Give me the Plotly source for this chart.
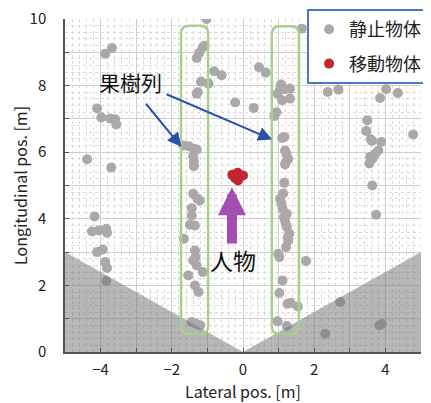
import plotly.graph_objects as go

# ---------------- data ----------------
static_x = [
    -3.87, -3.68, -4.10, -3.98, -3.73, -3.59, -3.56, -4.38, -3.70,
    -1.02, -1.30, -1.23, -1.13, -1.08, -0.81, -0.60, -1.18, -0.97, -1.30, -1.27,
    -1.67, -1.52, -1.38, -1.30, -1.40, -1.38, -1.38,
    -0.22, 0.30,
    0.45, 0.64, 1.07, 0.97, 1.18, 1.32, 1.10, 1.32, 1.04, 0.88, 0.94, 1.65,
    1.10, 1.16, 1.18, 1.22, 1.27, 1.18, 1.20,
    2.38, 2.68, 4.02, 4.35, 3.85, 4.78, 3.49, 3.46, 3.59, 3.88, 3.62, 3.80,
    3.71, 3.57, 3.64, 3.55, 3.63, 3.74, 1.77, 2.73, 3.83, 3.90, 2.31,
    1.16, 1.13, 1.04, 1.08, 1.11, 1.23, 1.18, 1.23, 1.30, 1.27, 1.21, 0.99,
    1.02, 1.11, 1.02, 1.25, 1.34, 1.54, 0.97, 1.23, 1.15, 1.20, 1.26,
    -1.40, -1.28, -1.44, -1.44, -1.35, -1.66, -1.35, -1.40, -1.30, -1.13,
    -1.54, -1.35, -1.25, -1.44, -1.32, -1.20, -1.21, -1.49, -1.33,
    -4.17, -4.24, -4.05, -3.84, -3.82, -4.10, -3.94, -3.87, -3.82, -3.84,
]
static_y = [
    8.96, 9.13, 7.31, 7.04, 7.01, 6.99, 6.83, 5.79, 5.54,
    10.00, 8.83, 8.98, 9.15, 9.20, 8.43, 8.31, 8.12, 8.06, 7.76, 7.80,
    6.20, 6.18, 6.10, 6.08, 5.88, 5.72, 5.58,
    7.49, 7.33,
    8.55, 8.39, 8.03, 7.76, 7.89, 7.91, 7.56, 7.61, 7.88, 7.09, 7.20, 9.71,
    6.43, 6.46, 6.05, 5.95, 5.80, 5.63, 5.70,
    7.81, 7.88, 7.89, 7.78, 7.63, 6.53, 6.96, 6.64, 6.39, 6.31, 6.34, 6.05,
    5.95, 5.86, 5.81, 5.66, 5.00, 4.12, 2.73, 1.50, 0.80, 0.84, 0.55,
    5.08, 4.76, 4.60, 4.45, 4.30, 4.15, 3.95, 3.75, 3.55, 3.35, 3.15, 2.95,
    2.85, 2.15, 1.77, 1.45, 1.47, 1.37, 0.92, 0.78, 4.05, 3.85, 3.45,
    4.75, 4.60, 4.32, 4.10, 3.80, 3.40, 3.05, 2.75, 2.60, 2.40,
    2.30, 2.00, 1.80, 0.90, 0.85, 0.80, 4.55, 3.82, 2.85,
    4.07, 3.62, 3.65, 3.70, 3.58, 3.00, 3.08, 2.70, 2.52, 2.13,
]
moving_x = [-0.30, -0.15, 0.00, -0.14, -0.22]
moving_y = [5.32, 5.38, 5.30, 5.15, 5.22]

# sensor blind zones (outside field of view)
blind_left_x = [-5, -5, 0, -5]
blind_left_y = [0, 3, 0, 0]
blind_right_x = [0, 5, 5, 0]
blind_right_y = [0, 3, 0, 0]

# tree rows (x0, x1, y0, y1)
tree_rows = [(-1.74, -0.98, 0.54, 9.80), (0.81, 1.57, 0.54, 9.78)]

x_tickvals = [-5, -4, -3, -2, -1, 0, 1, 2, 3, 4, 5]
x_ticktext = ["", "−4", "", "−2", "", "0", "", "2", "", "4", ""]
y_tickvals = [0, 1, 2, 3, 4, 5, 6, 7, 8, 9, 10]
y_ticktext = ["0", "", "2", "", "4", "", "6", "", "8", "", "10"]

FONT = "Noto Sans CJK JP"

fig = go.Figure()

fig.add_trace(go.Scatter(
    x=static_x, y=static_y, mode="markers", name="静止物体",
    marker=dict(size=10, color="#a9a9a9"), legendgroup="a",
))
fig.add_trace(go.Scatter(
    x=moving_x, y=moving_y, mode="markers", name="移動物体",
    marker=dict(size=10, color="#c1272d"), legendgroup="b",
))
for bx, by in [(blind_left_x, blind_left_y), (blind_right_x, blind_right_y)]:
    fig.add_trace(go.Scatter(
        x=bx, y=by, mode="lines", fill="toself",
        fillcolor="rgba(116,116,116,0.52)", line=dict(width=0),
        showlegend=False, hoverinfo="skip",
    ))

# rounded rectangles for tree rows
for x0, x1, y0, y1 in tree_rows:
    rx, ry = 0.22, 0.24
    path = (f"M {x0+rx},{y0} L {x1-rx},{y0} Q {x1},{y0} {x1},{y0+ry} "
            f"L {x1},{y1-ry} Q {x1},{y1} {x1-rx},{y1} "
            f"L {x0+rx},{y1} Q {x0},{y1} {x0},{y1-ry} "
            f"L {x0},{y0+ry} Q {x0},{y0} {x0+rx},{y0} Z")
    fig.add_shape(type="path", path=path, xref="x", yref="y",
                  line=dict(color="#a9cf8f", width=2.5))

# annotations
fig.add_annotation(x=-3.17, y=8.1, text="果樹列", showarrow=False,
                   font=dict(family=FONT, size=21, color="#111"))
fig.add_annotation(x=-1.73, y=6.16, ax=-2.76, ay=7.50, axref="x", ayref="y",
                   text="", showarrow=True, arrowhead=2, arrowsize=1.4,
                   arrowwidth=2, arrowcolor="#2a50a8")
fig.add_annotation(x=0.82, y=6.38, ax=-2.19, ay=7.76, axref="x", ayref="y",
                   text="", showarrow=True, arrowhead=2, arrowsize=1.4,
                   arrowwidth=2, arrowcolor="#2a50a8")
fig.add_annotation(x=-0.31, y=4.95, ax=-0.31, ay=3.21, axref="x", ayref="y",
                   text="", showarrow=True, arrowhead=2, arrowsize=0.56,
                   arrowwidth=10, arrowcolor="#a44db3")
fig.add_annotation(x=-0.28, y=2.76, text="人物", showarrow=False,
                   font=dict(family=FONT, size=23, color="#111"))

axis_common = dict(
    showline=True, linecolor="#555", linewidth=1.5, mirror=False,
    ticks="inside", ticklen=4, tickcolor="#555",
    showgrid=True, gridcolor="#cfcfcf", gridwidth=1,
    zeroline=False, automargin=False, ticklabeloverflow="allow",
    tickfont=dict(family=FONT, size=15, color="#222"),
    minor=dict(dtick=0.2, showgrid=True, gridcolor="#d9d9d9",
               griddash="dot", gridwidth=1),
)

# the page body has an 8px default margin, so the figure is sized to fit
fig.update_layout(
    width=423, height=395,
    margin=dict(l=57, r=10, t=11, b=51, autoexpand=False),
    plot_bgcolor="white", paper_bgcolor="white",
    font=dict(family=FONT, color="#222"),
    xaxis=dict(range=[-5, 5], tickmode="array", tickvals=x_tickvals,
               ticktext=x_ticktext, ticklabelstandoff=3,
               title=dict(text="Lateral pos. [m]", standoff=11,
                          font=dict(family=FONT, size=16, color="#222")),
               **axis_common),
    yaxis=dict(range=[0, 10], tickmode="array", tickvals=y_tickvals,
               ticktext=y_ticktext, ticklabelstandoff=14,
               title=dict(text="Longitudinal pos. [m]", standoff=0,
                          font=dict(family=FONT, size=16, color="#222")),
               **axis_common),
    showlegend=True,
    legend=dict(x=0.68, y=1.03, xanchor="left", yanchor="top",
                bgcolor="white", bordercolor="#4a78c4", borderwidth=2,
                font=dict(family=FONT, size=18, color="#222"),
                tracegroupgap=8, itemwidth=30),
)

fig.write_html("out.html")
